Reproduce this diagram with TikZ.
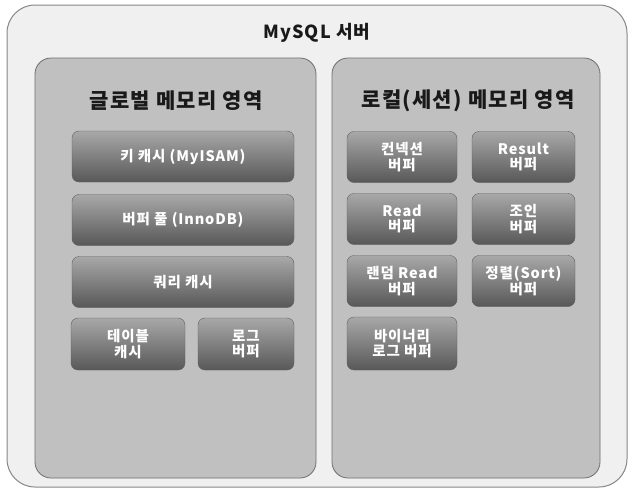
\documentclass[tikz,border=0pt]{standalone}
\usepackage{fontspec}
\setmainfont{Noto Sans CJK KR}[LetterSpace=6]
\usepackage{xcolor}
\usepackage{tikz}
\usetikzlibrary{positioning}
\definecolor{serverfill}{RGB}{240, 240, 240}
\definecolor{serveredge}{RGB}{135, 135, 135}
\definecolor{areafill}{RGB}{192, 192, 192}
\definecolor{areaedge}{RGB}{110, 110, 110}
\definecolor{buftop}{RGB}{168, 168, 168}
\definecolor{bufmid}{RGB}{128, 128, 128}
\definecolor{bufbottom}{RGB}{88, 88, 88}
\definecolor{bufedge}{RGB}{95, 95, 95}
\definecolor{titletext}{RGB}{25, 25, 25}

\begin{document}
\begin{tikzpicture}[x=1pt, y=-1pt,
    server/.style={draw=serveredge, fill=serverfill, rounded corners=28pt, line width=1pt, inner sep=0pt},
    area/.style={draw=areaedge, fill=areafill, rounded corners=16pt, line width=0.8pt, inner sep=0pt},
    areatitle/.style={text=titletext, font=\bfseries\fontsize{21}{21}\selectfont},
    buf/.style={draw=bufedge, rounded corners=7pt, top color=buftop, middle color=bufmid, bottom color=bufbottom,
        text=white, font=\bfseries\fontsize{14.5}{15.5}\selectfont, align=center, inner sep=0pt, minimum height=51pt}]
    \useasboundingbox (0,0) rectangle (633,498);
    % MySQL server
    \node[server, minimum width=620pt, minimum height=482pt] (server) at (317,246) {};
    \node[text=titletext, font=\bfseries\fontsize{18}{18}\selectfont] (servertitle) at (317,33) {MySQL 서버};

    % global memory area
    \node[area, minimum width=281pt, minimum height=420pt] (global) at (175.5,268) {};
    \node[areatitle] (globaltitle) at (176,101) {글로벌 메모리 영역};
    \node[buf, minimum width=222pt] (keycache) at (183,156.5) {키 캐시 (MyISAM)};
    \node[buf, minimum width=222pt] (bufpool) at (183,220) {버퍼 풀 (InnoDB)};
    \node[buf, minimum width=222pt] (querycache) at (183,282) {쿼리 캐시};
    \node[buf, minimum width=114pt, minimum height=52pt] (tablecache) at (128,344) {테이블\\캐시};
    \node[buf, minimum width=96pt, minimum height=52pt] (logbuf) at (246,344) {로그\\버퍼};

    % local (session) memory area
    \node[area, minimum width=268pt, minimum height=420pt] (local) at (466,268) {};
    \node[areatitle] (localtitle) at (468,101) {로컬(세션) 메모리 영역};
    \node[buf, minimum width=110pt] (connbuf) at (402,157) {컨넥션\\버퍼};
    \node[buf, minimum width=103pt] (resultbuf) at (523.5,157) {Result\\버퍼};
    \node[buf, minimum width=110pt] (readbuf) at (402,219) {Read\\버퍼};
    \node[buf, minimum width=103pt] (joinbuf) at (523.5,219) {조인\\버퍼};
    \node[buf, minimum width=110pt] (rndbuf) at (402,281) {랜덤 Read\\버퍼};
    \node[buf, minimum width=103pt] (sortbuf) at (523.5,281) {정렬(Sort)\\버퍼};
    \node[buf, minimum width=110pt, minimum height=53pt] (binlogbuf) at (402,343.5) {바이너리\\로그 버퍼};
\end{tikzpicture}
\end{document}
